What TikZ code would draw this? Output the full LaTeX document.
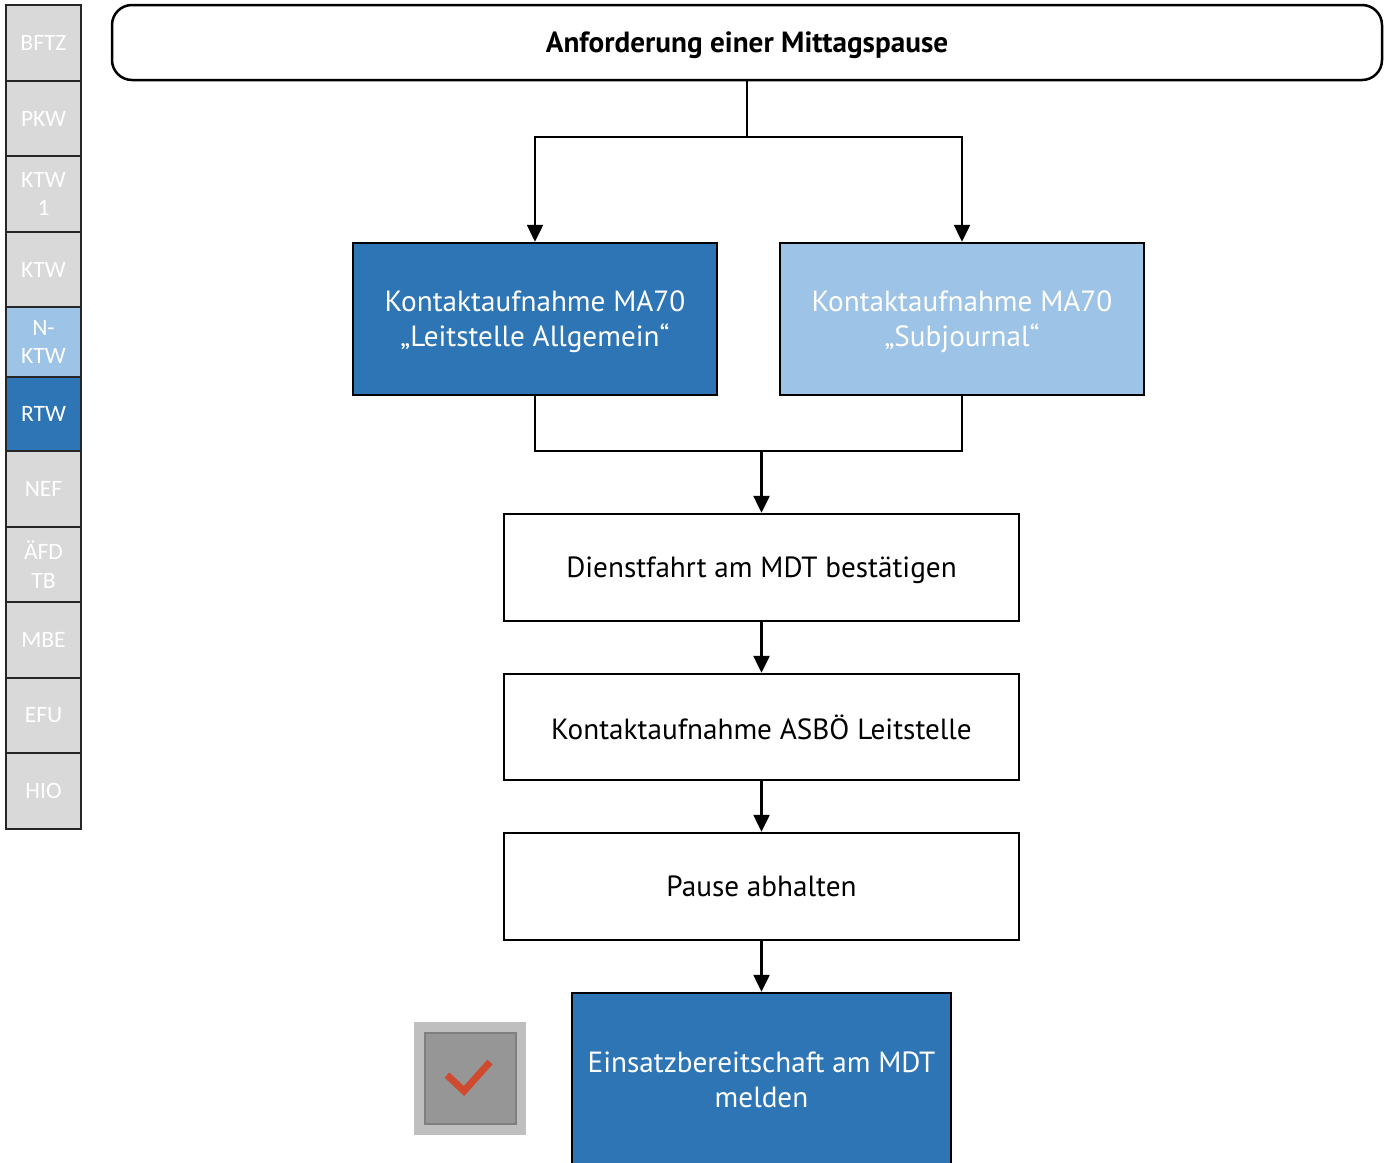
\documentclass[tikz,border=0pt]{standalone}
\usepackage{fontspec}
\setmainfont{PT Sans}
\newfontfamily\sidefont{Carlito}
\usetikzlibrary{arrows.meta}
\definecolor{boxblue}{HTML}{2E75B6}
\definecolor{boxlight}{HTML}{9DC3E6}
\definecolor{cellgrey}{HTML}{D9D9D9}
\definecolor{chkouter}{HTML}{BFBFBF}
\definecolor{chkinner}{HTML}{969696}
\definecolor{chkborder}{HTML}{7F7F7F}
\definecolor{chkmark}{HTML}{D04A30}
\begin{document}
\begin{tikzpicture}[x=1pt,y=-1pt,
  line width=2.5pt,
  flow/.style={draw=black,line width=2.5pt,rectangle,inner sep=0pt,align=center,
    text depth=0pt,font=\fontsize{29.2}{35}\selectfont},
  plainbox/.style={flow,fill=white,text=black,minimum width=515pt,minimum height=107pt},
  conn/.style={draw=black,line width=2.5pt},
  arr/.style={conn,-{Triangle[length=17pt,width=16pt]}},
  cell/.style={draw=black!85,line width=1.5pt,rectangle,inner sep=0pt,fill=cellgrey,
    text=white,minimum width=75pt,align=center,font=\sidefont\fontsize{23.5}{28.5}\selectfont}]
\useasboundingbox (0,0) rectangle (1389,1162);

% side bar with vehicle types
\node[cell,minimum height=76pt] (bftz) at (43.5,43) {BFTZ};
\node[cell,minimum height=75pt] (pkw) at (43.5,118.5) {PKW};
\node[cell,minimum height=76pt] (ktwa) at (43.5,194) {KTW\\1};
\node[cell,minimum height=75pt] (ktw) at (43.5,269.5) {KTW};
\node[cell,minimum height=70pt,fill=boxlight] (nktw) at (43.5,342) {N-\\KTW};
\node[cell,minimum height=74pt,fill=boxblue] (rtw) at (43.5,414) {RTW};
\node[cell,minimum height=76pt] (nef) at (43.5,489) {NEF};
\node[cell,minimum height=75pt] (afd) at (43.5,564.5) {ÄFD\\TB};
\node[cell,minimum height=76pt] (mbe) at (43.5,640) {MBE};
\node[cell,minimum height=75pt] (efu) at (43.5,715.5) {EFU};
\node[cell,minimum height=76pt] (hio) at (43.5,791) {HIO};

% title
\node[flow,rounded corners=20pt,minimum width=1270pt,minimum height=75pt,
  font=\bfseries\fontsize{29.2}{35}\selectfont] (title) at (747,42.5) {Anforderung einer Mittagspause};

% contact boxes
\node[flow,fill=boxblue,text=white,minimum width=364pt,minimum height=152pt] (ma70a) at (535,319)
  {Kontaktaufnahme MA70\\„Leitstelle Allgemein“};
\node[flow,fill=boxlight,text=white,minimum width=364pt,minimum height=152pt] (ma70b) at (962,319)
  {Kontaktaufnahme MA70\\„Subjournal“};

% sequence
\node[plainbox] (dienst) at (761.5,567.5) {Dienstfahrt am MDT bestätigen};
\node[plainbox,minimum height=106pt] (asbo) at (761.5,727) {Kontaktaufnahme ASBÖ Leitstelle};
\node[plainbox] (pause) at (761.5,886.5) {Pause abhalten};
\node[flow,fill=boxblue,text=white,minimum width=379pt,minimum height=174pt] (bereit) at (761.5,1080)
  {Einsatzbereitschaft am MDT\\melden};

% connectors
\coordinate (split) at (747,137);
\coordinate (merge) at (761.5,451);
\draw[conn] (title.south) -- (split);
\draw[arr] (split) -| (ma70a.north);
\draw[arr] (split) -| (ma70b.north);
\draw[conn] (ma70a.south) |- (merge);
\draw[conn] (ma70b.south) |- (merge);
\draw[arr] (merge) -- (dienst.north);
\draw[arr] (dienst.south) -- (asbo.north);
\draw[arr] (asbo.south) -- (pause.north);
\draw[arr] (pause.south) -- (bereit.north);

% check box
\node[rectangle,fill=chkouter,minimum width=112pt,minimum height=113pt,inner sep=0pt] (chk) at (470,1078.5) {};
\node[rectangle,fill=chkinner,draw=chkborder,line width=2pt,minimum width=91pt,minimum height=91pt,inner sep=0pt] (chkin) at (chk.center) {};
\draw[chkmark,line width=7pt] (447,1075) -- (464,1091) -- (490,1062);
\end{tikzpicture}
\end{document}
